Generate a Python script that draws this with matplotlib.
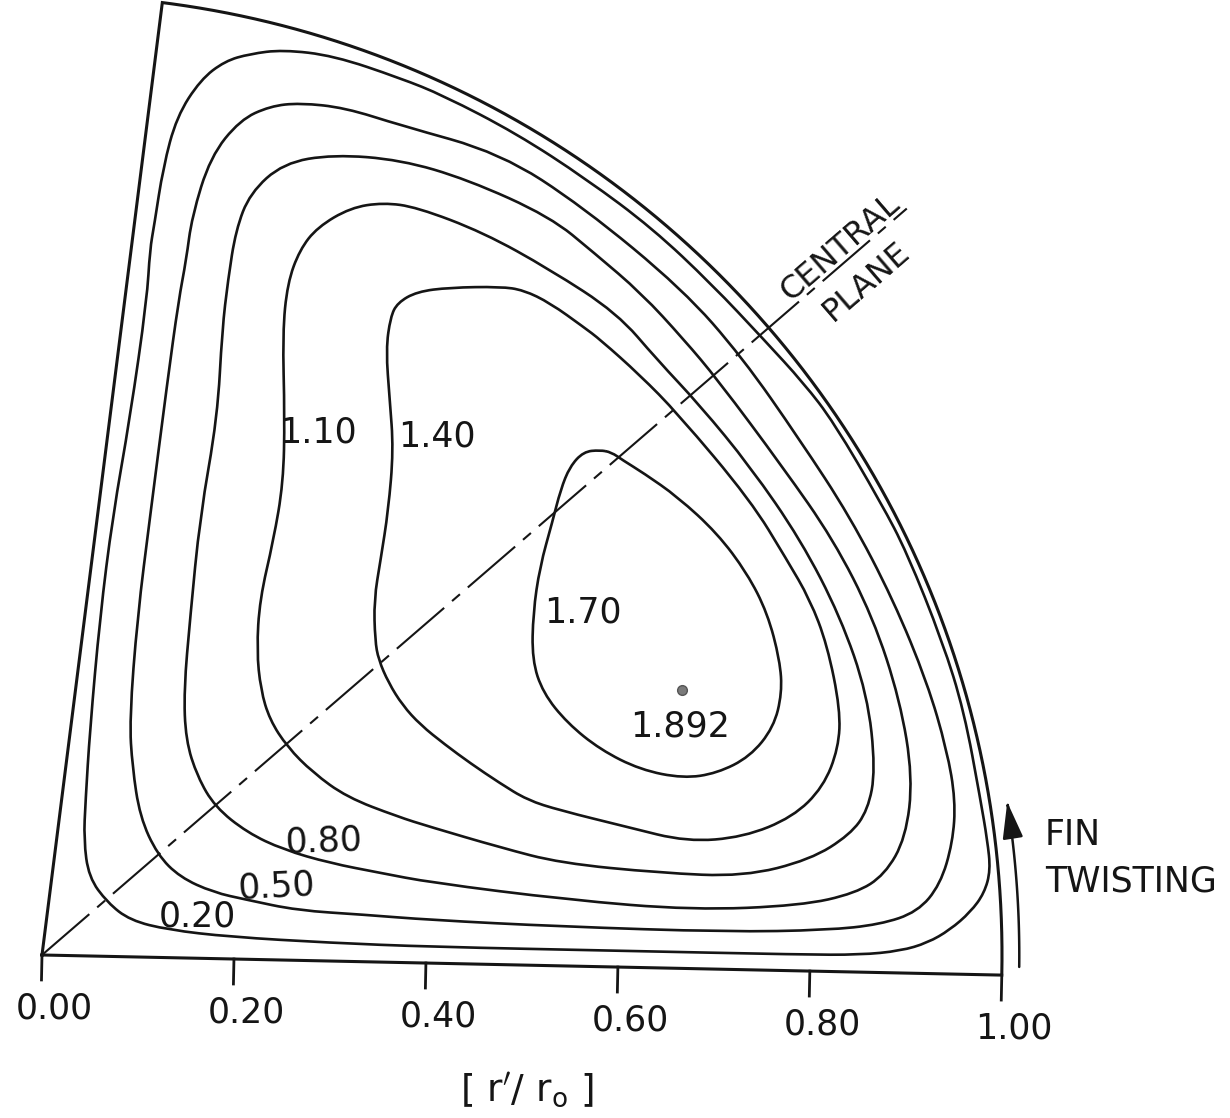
import numpy as np
import matplotlib
matplotlib.use("Agg")
import matplotlib.pyplot as plt
from matplotlib.path import Path
from matplotlib.patches import PathPatch, FancyArrowPatch
from matplotlib.transforms import Affine2D

plt.rcParams["font.family"] = "DejaVu Sans"
plt.rcParams["mathtext.fontset"] = "dejavusans"

# isoline levels, contours traced in r'/r0 units (x along the fin root, y normal to it)
levels = [0.20, 0.50, 0.80, 1.10, 1.40, 1.70]

c020_x = [0.097, 0.095, 0.080, 0.064, 0.053, 0.045, 0.042, 0.041, 0.047, 0.067, 0.091, 0.131,
          0.195, 0.300, 0.404, 0.602, 0.790, 0.852, 0.894, 0.922, 0.945, 0.966, 0.980, 0.986,
          0.982, 0.974, 0.955, 0.931, 0.892, 0.864, 0.813, 0.781, 0.738, 0.683, 0.620, 0.550,
          0.476, 0.399, 0.354, 0.284, 0.231, 0.197, 0.171, 0.146, 0.122, 0.109, 0.101]
c020_y = [0.737, 0.685, 0.562, 0.458, 0.353, 0.235, 0.162, 0.121, 0.082, 0.056, 0.038, 0.029,
          0.023, 0.019, 0.017, 0.017, 0.017, 0.018, 0.023, 0.032, 0.046, 0.065, 0.085, 0.109,
          0.140, 0.182, 0.274, 0.346, 0.438, 0.489, 0.572, 0.612, 0.657, 0.713, 0.770, 0.820,
          0.866, 0.904, 0.921, 0.943, 0.948, 0.943, 0.935, 0.915, 0.876, 0.823, 0.763]

c050_x = [0.250, 0.219, 0.188, 0.158, 0.140, 0.135, 0.128, 0.118, 0.103, 0.092, 0.086, 0.090,
          0.099, 0.118, 0.142, 0.177, 0.212, 0.265, 0.334, 0.403, 0.539, 0.713, 0.817, 0.872,
          0.911, 0.934, 0.946, 0.948, 0.938, 0.916, 0.879, 0.832, 0.778, 0.716, 0.653, 0.547,
          0.460, 0.355, 0.297]
c050_y = [0.893, 0.889, 0.874, 0.835, 0.772, 0.727, 0.685, 0.599, 0.459, 0.354, 0.247, 0.198,
          0.146, 0.107, 0.084, 0.069, 0.062, 0.052, 0.049, 0.045, 0.041, 0.039, 0.043, 0.050,
          0.064, 0.093, 0.137, 0.181, 0.233, 0.303, 0.388, 0.474, 0.553, 0.638, 0.707, 0.791,
          0.845, 0.872, 0.889]

c080_x = [0.286, 0.234, 0.200, 0.186, 0.179, 0.174, 0.171, 0.155, 0.147, 0.142, 0.145, 0.158,
          0.177, 0.211, 0.249, 0.298, 0.350, 0.403, 0.546, 0.677, 0.789, 0.846, 0.876, 0.897,
          0.903, 0.888, 0.858, 0.815, 0.761, 0.691, 0.655, 0.610, 0.560, 0.513, 0.426, 0.356]
c080_y = [0.840, 0.830, 0.798, 0.759, 0.707, 0.655, 0.564, 0.460, 0.355, 0.279, 0.227, 0.189,
          0.158, 0.132, 0.115, 0.102, 0.093, 0.084, 0.069, 0.061, 0.068, 0.082, 0.102, 0.141,
          0.204, 0.284, 0.370, 0.450, 0.524, 0.614, 0.655, 0.702, 0.743, 0.780, 0.817, 0.836]

c110_x = [0.253, 0.271, 0.305, 0.339, 0.374, 0.444, 0.514, 0.585, 0.628, 0.673, 0.727, 0.781,
          0.824, 0.854, 0.864, 0.857, 0.839, 0.798, 0.729, 0.642, 0.538, 0.475, 0.401, 0.367,
          0.314, 0.278, 0.251, 0.232, 0.222, 0.217, 0.219, 0.232, 0.241, 0.241, 0.237, 0.241]
c110_y = [0.740, 0.764, 0.785, 0.791, 0.787, 0.762, 0.725, 0.681, 0.633, 0.587, 0.524, 0.449,
          0.370, 0.289, 0.211, 0.169, 0.143, 0.116, 0.097, 0.099, 0.107, 0.122, 0.142, 0.152,
          0.171, 0.196, 0.222, 0.250, 0.281, 0.322, 0.375, 0.437, 0.497, 0.566, 0.653, 0.705]

c140_x = [0.349, 0.356, 0.376, 0.410, 0.463, 0.487, 0.515, 0.550, 0.568, 0.610, 0.650,
          0.728, 0.767, 0.792, 0.811, 0.826, 0.825, 0.810, 0.779, 0.728, 0.669, 0.607, 0.536,
          0.502, 0.473, 0.442, 0.415, 0.389, 0.370, 0.355, 0.344, 0.340, 0.338, 0.344, 0.351,
          0.355, 0.350, 0.345]
c140_y = [0.672, 0.687, 0.699, 0.704, 0.706, 0.703, 0.690, 0.666, 0.653, 0.617, 0.578,
          0.489, 0.428, 0.387, 0.340, 0.273, 0.233, 0.192, 0.160, 0.138, 0.132, 0.146, 0.162,
          0.172, 0.189, 0.209, 0.228, 0.248, 0.268, 0.291, 0.315, 0.335, 0.377, 0.419, 0.471,
          0.534, 0.586, 0.638]

c170_x = [0.570, 0.553, 0.539, 0.530, 0.522, 0.510, 0.504, 0.504, 0.516, 0.542, 0.577, 0.619,
          0.664, 0.699, 0.733, 0.757, 0.765, 0.762, 0.748, 0.726, 0.694, 0.652, 0.616, 0.594,
          0.582]
c170_y = [0.538, 0.536, 0.520, 0.496, 0.462, 0.415, 0.367, 0.318, 0.284, 0.253, 0.226, 0.206,
          0.198, 0.204, 0.222, 0.253, 0.289, 0.323, 0.372, 0.413, 0.454, 0.491, 0.515, 0.528,
          0.536]

peak_x, peak_y, peak_value = 0.661, 0.290, 1.892

ticks = [0.00, 0.20, 0.40, 0.60, 0.80, 1.00]
sector_deg = 84.0      # fin sector span
plane_deg = 42.0       # central plane

# where the level labels sit
label_x = [0.161, 0.243, 0.291, 0.276, 0.400, 0.556]
label_y = [0.044, 0.076, 0.125, 0.550, 0.549, 0.369]
label_rot = [0, 3, 2, 0, 0, 0]

ink = "#151515"
fs = 25


def smooth_closed(xs, ys):
    """Closed quadratic-bezier path through the traced knots."""
    pts = np.column_stack([xs, ys])
    mids = (pts + np.roll(pts, -1, axis=0)) / 2.0
    verts = [mids[-1]]
    codes = [Path.MOVETO]
    for p, m in zip(pts, mids):
        verts += [p, m]
        codes += [Path.CURVE3, Path.CURVE3]
    return Path(verts, codes)


fig = plt.figure(figsize=(12.3, 11.18), dpi=100)
ax = fig.add_axes([0, 0, 1, 1])
ax.set_xlim(-0.04375, 1.2375)
ax.set_ylim(-0.1698, 0.9948)
ax.axis("off")

# the drawing sits slightly tilted on the sheet
tr = Affine2D().rotate_deg(-1.2) + ax.transData

# sector outline: root line, tip arc, fin face
th = np.radians(np.linspace(0.0, sector_deg, 300))
bx = np.concatenate([[0.0], np.cos(th), [0.0]])
by = np.concatenate([[0.0], np.sin(th), [0.0]])
ax.plot(bx, by, color=ink, lw=2.2, transform=tr, solid_joinstyle="miter")

contours_x = [c020_x, c050_x, c080_x, c110_x, c140_x, c170_x]
contours_y = [c020_y, c050_y, c080_y, c110_y, c140_y, c170_y]
for xs, ys in zip(contours_x, contours_y):
    ax.add_patch(PathPatch(smooth_closed(xs, ys), fill=False, ec=ink, lw=1.9,
                           transform=tr, joinstyle="round"))

for lvl, lx, ly, rot in zip(levels, label_x, label_y, label_rot):
    ax.text(lx, ly, f"{lvl:.2f}", transform=tr, fontsize=fs, ha="center",
            va="center", rotation=rot, color=ink)

# maximum
ax.plot(peak_x, peak_y, "o", ms=7, color="#7a7a7a", mec="#555555", transform=tr)
ax.text(peak_x - 0.001, peak_y - 0.038, f"{peak_value:.3f}", transform=tr,
        fontsize=fs, ha="center", va="center", color=ink)

# central plane (centre line)
pr = 1.19
pa = np.radians(plane_deg)
ax.plot([0, pr * np.cos(pa)], [0, pr * np.sin(pa)], color=ink, lw=1.5,
        ls=(0, (30, 5, 5, 5)), transform=tr)
ax.text(0.816, 0.754, "CENTRAL", transform=tr, fontsize=23, rotation=40.8,
        rotation_mode="anchor", ha="center", va="center", color=ink)
ax.text(0.844, 0.719, "PLANE", transform=tr, fontsize=23, rotation=40.8,
        rotation_mode="anchor", ha="center", va="center", color=ink)

# root axis ticks and labels
for t in ticks:
    ax.plot([t, t], [0, -0.026], color=ink, lw=2.0, transform=tr)
    ax.text(t + 0.014, -0.055, f"{t:.2f}", transform=tr, fontsize=fs,
            ha="center", va="center", color=ink)
ax.text(0.508, -0.130, r"$[\ \mathrm{r}^{\prime}/\ \mathrm{r}_{\mathrm{o}}\ ]$",
        transform=tr, fontsize=27, ha="center", va="center", color=ink)

# direction of fin twisting
ta = np.radians(np.linspace(0.5, 10.2, 60))
arc = Path(np.column_stack([1.018 * np.cos(ta), 1.018 * np.sin(ta)]))
ax.add_patch(FancyArrowPatch(path=arc, arrowstyle="-|>,head_length=1.6,head_width=0.45",
                             mutation_scale=14, color=ink, lw=1.8, transform=tr))
ax.text(1.042, 0.147, "FIN", transform=tr, fontsize=fs, ha="left", va="center", color=ink)
ax.text(1.043, 0.098, "TWISTING", transform=tr, fontsize=fs, ha="left", va="center",
        color=ink)

fig.savefig("out.png", dpi=100, facecolor="white")
plt.close(fig)
